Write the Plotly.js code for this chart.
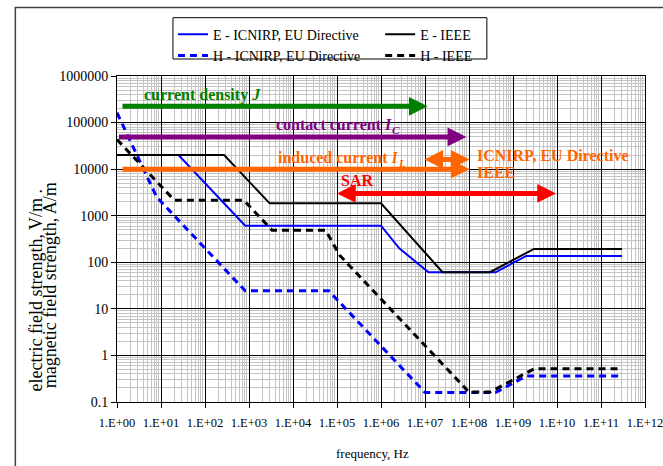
<!DOCTYPE html>
<html><head><meta charset="utf-8">
<script src="https://cdn.plot.ly/plotly-3.0.1.min.js"></script>
<style>html,body{margin:0;padding:0;background:#fff}#chart{width:663px;height:466px}</style>
</head><body><div id="chart"></div>
<script>
// ---- data ----
const freqEicnirp = [1, 25, 820, 1e6, 2.6e6, 1.2e7, 4e8, 2e9, 3e11];
const valEicnirp  = [20000, 20000, 610, 610, 200, 61, 61, 137, 137];

const freqHicnirp = [1, 8, 820, 65000, 1e7, 4e8, 2e9, 3e11];
const valHicnirp  = [163000, 2500, 24.4, 24.4, 0.16, 0.16, 0.36, 0.36];

const freqEieee = [1, 272, 2953, 1e6, 2.5e7, 3e8, 3e9, 3e11];
const valEieee  = [20000, 20000, 1842, 1842, 61.4, 61.4, 194, 194];

const freqHieee = [1, 20, 759, 3341, 55000, 1.15e5, 1e8, 3e8, 3e9, 3e11];
const valHieee  = [43200, 2157, 2157, 490, 490, 141.7, 0.163, 0.163, 0.515, 0.515];

const seriesNames = ['E - ICNIRP, EU Directive', 'H - ICNIRP, EU Directive', 'E - IEEE', 'H - IEEE'];

// frequency ranges of the basic restrictions (arrows)
const arrowNames = ['current density J', 'contact current IC', 'induced current IL (IEEE)', 'induced current IL (ICNIRP, EU Directive)', 'SAR'];
const arrowFrom  = [1.2, 1.0, 1.2, 8.7e6, 9e4];
const arrowTo    = [1.15e7, 8.7e7, 1.03e8, 1.03e8, 9.5e9];
const arrowLevel = [224000, 49200, 10000, 16200, 3000];
const arrowBoth  = [false, false, false, true, true];

const xTickVals = [1, 10, 100, 1e3, 1e4, 1e5, 1e6, 1e7, 1e8, 1e9, 1e10, 1e11, 1e12];
const xTickText = ['1.E+00','1.E+01','1.E+02','1.E+03','1.E+04','1.E+05','1.E+06','1.E+07','1.E+08','1.E+09','1.E+10','1.E+11','1.E+12'];
const yTickVals = [0.1, 1, 10, 100, 1000, 10000, 100000, 1000000];
const yTickText = ['0.1','1','10','100','1000','10000','100000','1000000'];

// ---- styles ----
const serif = 'Liberation Serif, Times New Roman, serif';
const arrowColors = ['#008000', '#800080', '#ff6600', '#ff6600', '#ff0000'];

const traces = [
  {x: freqEicnirp, y: valEicnirp, name: seriesNames[0], mode: 'lines', line: {color: '#0000ff', width: 2}, legend: 'legend'},
  {x: freqHicnirp, y: valHicnirp, name: seriesNames[1], mode: 'lines', line: {color: '#0000ff', width: 3, dash: '7px,5px'}, legend: 'legend'},
  {x: freqEieee, y: valEieee, name: seriesNames[2], mode: 'lines', line: {color: '#000000', width: 2}, legend: 'legend2'},
  {x: freqHieee, y: valHieee, name: seriesNames[3], mode: 'lines', line: {color: '#000000', width: 3, dash: '7px,5px'}, legend: 'legend2'}
];

const annotations = [];
arrowNames.forEach((n, i) => {
  annotations.push({
    xref: 'x', yref: 'y', axref: 'x', ayref: 'y',
    x: Math.log10(arrowTo[i]), y: Math.log10(arrowLevel[i]),
    ax: Math.log10(arrowFrom[i]), ay: Math.log10(arrowLevel[i]),
    text: '&nbsp;', font: {size: 12}, borderpad: 0, showarrow: true,
    arrowhead: 2, arrowsize: 0.75, arrowwidth: 5, arrowcolor: arrowColors[i],
    arrowside: arrowBoth[i] ? 'end+start' : 'end',
    startarrowhead: 2, startarrowsize: 0.75, standoff: 0, startstandoff: 0
  });
});

function lbl(text, lx, ly, color, anchor, size) {
  return {xref: 'x', yref: 'y', x: lx, y: ly, text: '<b>' + text + '</b>', showarrow: false,
    xanchor: anchor || 'center', yanchor: 'middle',
    font: {family: serif, size: size || 16, color: color}};
}
annotations.push(lbl('current density <i>J</i>', 1.935, 5.586, '#008000'));
annotations.push(lbl('contact current <i>I</i>', 3.573, 4.965, '#800080', 'left'));
annotations.push(lbl('<i>C</i>', 6.207, 4.85, '#800080', 'left', 11));
annotations.push(lbl('induced current <i>I</i>', 3.618, 4.242, '#ff6600', 'left'));
annotations.push(lbl('<i>L</i>', 6.343, 4.13, '#ff6600', 'left', 11));
annotations.push(lbl('ICNIRP, EU Directive', 8.144, 4.30, '#ff6600', 'left'));
annotations.push(lbl('IEEE', 8.144, 3.93, '#ff6600', 'left'));
annotations.push(lbl('SAR', 5.465, 3.764, '#ff0000'));

// axis titles
annotations.push({xref: 'paper', yref: 'paper', x: 0.4833, y: -0.159, text: 'frequency, Hz', showarrow: false,
  xanchor: 'center', yanchor: 'middle', font: {family: serif, size: 13, color: '#000'}});
annotations.push({xref: 'paper', yref: 'paper', x: -0.1535, y: 0.345, text: 'electric field strength, V/m .', showarrow: false,
  textangle: -90, xanchor: 'center', yanchor: 'middle', font: {family: serif, size: 18, color: '#000'}});
annotations.push({xref: 'paper', yref: 'paper', x: -0.1270, y: 0.358, text: 'magnetic field strength, A/m', showarrow: false,
  textangle: -90, xanchor: 'center', yanchor: 'middle', font: {family: serif, size: 18, color: '#000'}});

const shapes = [
  // outer frame
  {type: 'rect', xref: 'paper', yref: 'paper', x0: -0.1925, x1: 1.3, y0: -0.5, y1: 1.2105,
   line: {color: '#404040', width: 1.5}, fillcolor: 'rgba(0,0,0,0)', layer: 'below'},
  // legend box
  {type: 'rect', xref: 'paper', yref: 'paper', x0: 0.106, x1: 0.7005, y0: 1.0521, y1: 1.1789,
   line: {color: '#000', width: 1}, fillcolor: '#fff'}
];

const axisCommon = {
  type: 'log', showline: true, linecolor: '#000', linewidth: 1, mirror: true,
  showgrid: true, gridcolor: '#000', gridwidth: 1, zeroline: false,
  ticks: 'outside', ticklen: 5, tickcolor: '#000', tickmode: 'array',
  minor: {dtick: 'D1', showgrid: true, gridcolor: '#c4c4c4', gridwidth: 1, ticks: ''}
};

const layout = {
  width: 663, height: 466,
  margin: {l: 117, r: 18, t: 76, b: 64},
  paper_bgcolor: '#fff', plot_bgcolor: '#fff',
  xaxis: Object.assign({}, axisCommon, {range: [0, 12], tickvals: xTickVals, ticktext: xTickText,
    tickfont: {family: serif, size: 12.5, color: '#000'}, ticklabelstandoff: 4, ticklabeloverflow: 'allow'}),
  yaxis: Object.assign({}, axisCommon, {range: [-1, 6], tickvals: yTickVals, ticktext: yTickText,
    tickfont: {family: serif, size: 14, color: '#000'}}),
  showlegend: true,
  legend: {x: 0.106, xanchor: 'left', y: 1.176, yanchor: 'top', bgcolor: 'rgba(0,0,0,0)', borderwidth: 0,
    font: {family: serif, size: 14, color: '#000'}, tracegroupgap: 0, orientation: 'v'},
  legend2: {x: 0.4984, xanchor: 'left', y: 1.176, yanchor: 'top', bgcolor: 'rgba(0,0,0,0)', borderwidth: 0,
    font: {family: serif, size: 14, color: '#000'}, tracegroupgap: 0, orientation: 'v'},
  annotations: annotations,
  shapes: shapes
};

Plotly.newPlot('chart', traces, layout, {displayModeBar: false, staticPlot: true});
</script>
</body></html>
